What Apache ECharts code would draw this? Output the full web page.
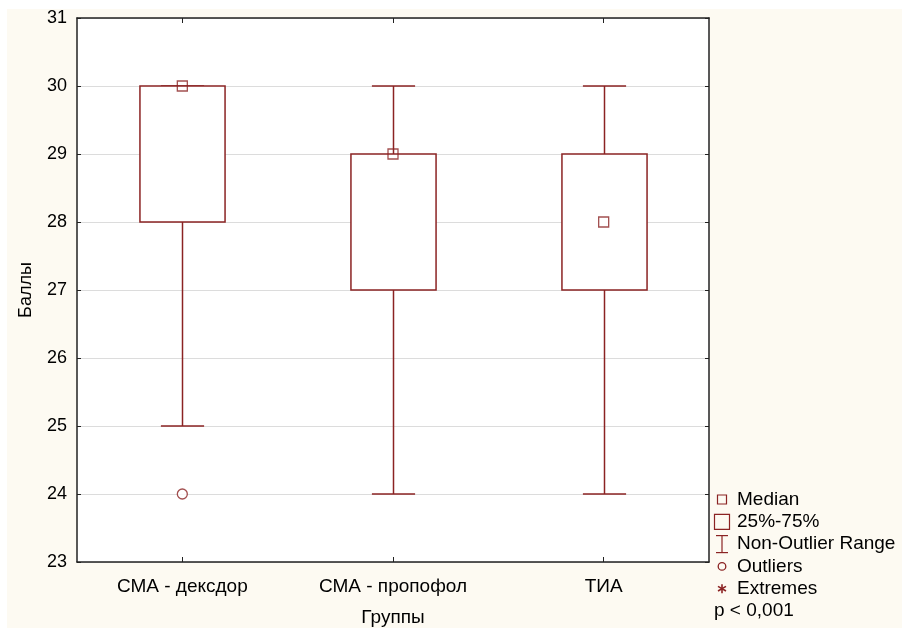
<!DOCTYPE html>
<html>
<head>
<meta charset="utf-8">
<script src="https://cdn.jsdelivr.net/npm/echarts@6/dist/echarts.min.js"></script>
<style>
html,body{margin:0;padding:0;background:#fff;}
#chart{width:902px;height:628px;}
</style>
</head>
<body>
<div id="chart"></div>
<script>
const categories = ['СМА - дексдор', 'СМА - пропофол', 'ТИА'];
const whiskerLow = [25, 24, 24];
const quartile1 = [28, 27, 27];
const medians = [30, 29, 28];
const quartile3 = [30, 29, 29];
const whiskerHigh = [30, 30, 30];
const outliers = [[0, 24]];
const yTicks = [23, 24, 25, 26, 27, 28, 29, 30, 31];
const legendLabels = ['Median', '25%-75%', 'Non-Outlier Range', 'Outliers', 'Extremes'];
const noteText = 'p < 0,001';

const RED = '#8B2323';
const FONT = 'Liberation Sans, Arial, sans-serif';

const boxData = categories.map((c, i) => [i, whiskerLow[i], quartile1[i], quartile3[i], whiskerHigh[i]]);
const medianData = categories.map((c, i) => [i, medians[i]]);

const chart = echarts.init(document.getElementById('chart'));

function renderBox(params, api) {
  const x = api.value(0);
  const band = api.size([1, 0])[0];
  const boxW = band * 0.404;
  const capW = band * 0.205;
  const pLow = api.coord([x, api.value(1)]);
  const pQ1 = api.coord([x, api.value(2)]);
  const pQ3 = api.coord([x, api.value(3)]);
  const pHigh = api.coord([x, api.value(4)]);
  const cx = Math.round(pQ1[0]) + 0.5;
  const st = { stroke: RED, lineWidth: 1.5, fill: null };
  return {
    type: 'group',
    children: [
      { type: 'line', shape: { x1: cx, y1: pQ1[1], x2: cx, y2: pLow[1] }, style: st },
      { type: 'line', shape: { x1: cx, y1: pQ3[1], x2: cx, y2: pHigh[1] }, style: st },
      { type: 'line', shape: { x1: cx - capW / 2, y1: pLow[1], x2: cx + capW / 2, y2: pLow[1] }, style: st },
      { type: 'line', shape: { x1: cx - capW / 2, y1: pHigh[1], x2: cx + capW / 2, y2: pHigh[1] }, style: st },
      { type: 'rect', shape: { x: cx - boxW / 2, y: pQ3[1], width: boxW, height: pQ1[1] - pQ3[1] }, style: { stroke: RED, lineWidth: 1.5, fill: '#fff' } }
    ]
  };
}

const lx = 722, ly0 = 499.5, ldy = 22.3;
const legendGraphics = [];
legendGraphics.push({ type: 'rect', shape: { x: lx - 4.5, y: ly0 - 4.5, width: 9, height: 9 }, style: { stroke: RED, lineWidth: 1.2, fill: 'transparent' } });
legendGraphics.push({ type: 'rect', shape: { x: lx - 7.5, y: ly0 + ldy - 7.5, width: 15, height: 15 }, style: { stroke: RED, lineWidth: 1.2, fill: 'transparent' } });
legendGraphics.push({ type: 'line', shape: { x1: lx, y1: ly0 + 2 * ldy - 8.5, x2: lx, y2: ly0 + 2 * ldy + 8.5 }, style: { stroke: RED, lineWidth: 1.2 } });
legendGraphics.push({ type: 'line', shape: { x1: lx - 6, y1: ly0 + 2 * ldy - 8.5, x2: lx + 6, y2: ly0 + 2 * ldy - 8.5 }, style: { stroke: RED, lineWidth: 1.2 } });
legendGraphics.push({ type: 'line', shape: { x1: lx - 6, y1: ly0 + 2 * ldy + 8.5, x2: lx + 6, y2: ly0 + 2 * ldy + 8.5 }, style: { stroke: RED, lineWidth: 1.2 } });
legendGraphics.push({ type: 'circle', shape: { cx: lx, cy: ly0 + 3 * ldy, r: 3.8 }, style: { stroke: RED, lineWidth: 1.3, fill: 'transparent' } });
const ay = ly0 + 4 * ldy;
[[0, 4.5], [4, 2.3], [4, -2.3]].forEach(d => {
  legendGraphics.push({ type: 'line', shape: { x1: lx - d[0], y1: ay - d[1], x2: lx + d[0], y2: ay + d[1] }, style: { stroke: RED, lineWidth: 1.6 } });
});
legendLabels.forEach((t, i) => {
  legendGraphics.push({ type: 'text', x: 737, y: ly0 + i * ldy, style: { text: t, font: '19px ' + FONT, fill: '#000', verticalAlign: 'middle', align: 'left' } });
});
legendGraphics.push({ type: 'text', x: 714, y: ly0 + 5 * ldy, style: { text: noteText, font: '19px ' + FONT, fill: '#000', verticalAlign: 'middle', align: 'left' } });

const option = {
  backgroundColor: '#ffffff',
  animation: false,
  textStyle: { fontFamily: FONT },
  graphic: [
    { type: 'rect', z: -10, silent: true, shape: { x: 7, y: 9, width: 895, height: 619 }, style: { fill: '#FDFAF2' } },
    ...legendGraphics
  ],
  grid: { left: 77, top: 18, right: 193, bottom: 66, containLabel: false, outerBoundsMode: 'none', show: true, backgroundColor: '#ffffff', borderColor: 'transparent', borderWidth: 0 },
  xAxis: [
    {
      type: 'category', data: categories, boundaryGap: true, position: 'bottom',
      axisLine: { show: true, lineStyle: { color: '#222', width: 1.5 } },
      axisTick: { show: true, inside: true, alignWithLabel: true, length: 5, lineStyle: { color: '#222' } },
      axisLabel: { color: '#000', fontSize: 19, margin: 15, fontFamily: FONT },
      splitLine: { show: false },
      name: 'Группы', nameLocation: 'middle', nameGap: 46,
      nameTextStyle: { color: '#000', fontSize: 19, fontFamily: FONT }
    },
    {
      type: 'category', data: categories, boundaryGap: true, position: 'top',
      axisLine: { show: true, lineStyle: { color: '#222', width: 1.5 } },
      axisTick: { show: true, inside: true, alignWithLabel: true, length: 5, lineStyle: { color: '#222' } },
      axisLabel: { show: false }, splitLine: { show: false }
    }
  ],
  yAxis: [
    {
      type: 'value', min: yTicks[0], max: yTicks[yTicks.length - 1], interval: 1, position: 'left',
      axisLine: { show: true, lineStyle: { color: '#222', width: 1.5 } },
      axisTick: { show: true, inside: true, length: 4, lineStyle: { color: '#222' } },
      axisLabel: { color: '#000', fontSize: 18, margin: 10, fontFamily: FONT },
      splitLine: { show: true, lineStyle: { color: '#dcdcdc', width: 1 } },
      name: 'Баллы', nameLocation: 'middle', nameGap: 42, nameRotate: 90,
      nameTextStyle: { color: '#000', fontSize: 18, fontFamily: FONT }
    },
    {
      type: 'value', min: yTicks[0], max: yTicks[yTicks.length - 1], interval: 1, position: 'right',
      axisLine: { show: true, lineStyle: { color: '#222', width: 1.5 } },
      axisTick: { show: true, inside: true, length: 4, lineStyle: { color: '#222' } },
      axisLabel: { show: false }, splitLine: { show: false }
    }
  ],
  series: [
    { type: 'custom', name: 'box', data: boxData, renderItem: renderBox, encode: { x: 0, y: [1, 2, 3, 4] }, z: 3 },
    { type: 'scatter', name: 'Median', data: medianData, symbol: 'rect', symbolSize: 10, itemStyle: { color: 'transparent', borderColor: RED, borderWidth: 1.3 }, z: 5 },
    { type: 'scatter', name: 'Outliers', data: outliers, symbol: 'circle', symbolSize: 10, itemStyle: { color: '#fff', borderColor: RED, borderWidth: 1.3 }, z: 5 }
  ]
};
chart.setOption(option);
</script>
</body>
</html>
